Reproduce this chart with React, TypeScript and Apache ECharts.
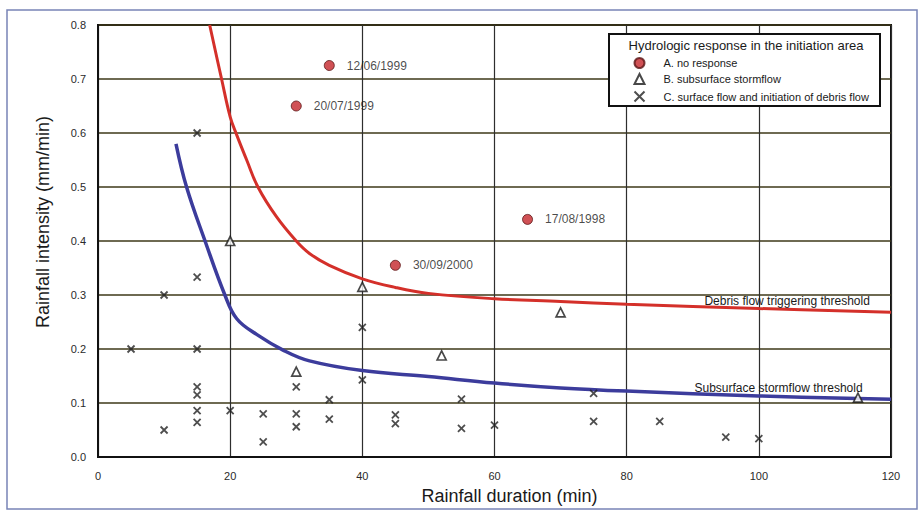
import React, { useEffect, useRef } from "react";
import * as echarts from "echarts";

// ---- data ----
const noResponseX = [35, 30, 65, 45];
const noResponseY = [0.725, 0.65, 0.44, 0.355];
const noResponseDates = ["12/06/1999", "20/07/1999", "17/08/1998", "30/09/2000"];

const subsurfaceX = [20, 40, 30, 52, 70, 115];
const subsurfaceY = [0.4, 0.315, 0.158, 0.188, 0.268, 0.11];

const surfaceX = [5, 10, 10, 15, 15, 15, 15, 15, 15, 15, 20, 25, 25, 30, 30, 30, 35, 35, 40, 40, 45, 45, 55, 55, 60, 75, 75, 85, 95, 100];
const surfaceY = [0.2, 0.3, 0.05, 0.6, 0.333, 0.2, 0.13, 0.115, 0.086, 0.064, 0.086, 0.08, 0.028, 0.13, 0.08, 0.056, 0.106, 0.07, 0.24, 0.143, 0.078, 0.062, 0.107, 0.053, 0.059, 0.118, 0.066, 0.066, 0.037, 0.034];

const debrisX = [16.9, 18.7, 20, 21, 22.5, 24.2, 27, 30, 32, 35, 40, 45, 50, 60, 70, 80, 100, 120];
const debrisY = [0.8, 0.7, 0.63, 0.596, 0.55, 0.5, 0.445, 0.4, 0.377, 0.355, 0.33, 0.314, 0.303, 0.293, 0.288, 0.283, 0.275, 0.268];

const stormX = [11.8, 13.4, 16.2, 19.2, 21, 24, 28, 32, 40, 50, 60, 70, 80, 100, 120];
const stormY = [0.58, 0.5, 0.4, 0.3, 0.256, 0.227, 0.198, 0.178, 0.16, 0.149, 0.137, 0.128, 0.122, 0.113, 0.107];

const xTicks = { min: 0, max: 120, interval: 20 };
const yTicks = { min: 0, max: 0.8, interval: 0.1 };

const legendTitle = "Hydrologic response in the initiation area";
const seriesNames = ["A. no response", "B. subsurface stormflow", "C. surface flow and initiation of debris flow"];
const debrisLabel = "Debris flow triggering threshold";
const debrisLabelPos = [116.8, 0.288];
const stormLabel = "Subsurface stormflow threshold";
const stormLabelPos = [115.7, 0.128];

const FONT = "'Liberation Sans', Arial, sans-serif";
const zip = (xs: number[], ys: number[]) => xs.map((x, i) => [x, ys[i]]);

export default function App() {
  const ref = useRef<HTMLDivElement>(null);
  useEffect(() => {
    if (!ref.current) return;
    const chart = echarts.init(ref.current, null, { renderer: "svg" });
    const thresholdLabel = (text: string, coord: number[]) => ({
      silent: true,
      symbol: "circle",
      symbolSize: 0,
      data: [
        {
          coord,
          label: {
            show: true,
            position: "left",
            distance: 0,
            formatter: text,
            color: "#1a1a1a",
            fontSize: 12,
            fontFamily: FONT,
          },
        },
      ],
    });
    chart.setOption({
      animation: false,
      backgroundColor: "#fff",
      textStyle: { fontFamily: FONT },
      grid: {
        left: 98,
        right: 28,
        top: 25,
        bottom: 55,
        show: true,
        borderColor: "#111",
        borderWidth: 2,
        backgroundColor: "transparent",
        containLabel: false,
      },
      xAxis: {
        type: "value",
        min: xTicks.min,
        max: xTicks.max,
        interval: xTicks.interval,
        name: "Rainfall duration (min)",
        nameLocation: "middle",
        nameGap: 30,
        nameTextStyle: { fontSize: 18, color: "#1a1a1a", fontFamily: FONT, padding: [0, 0, 0, 30] },
        axisLine: { show: true, lineStyle: { color: "#111", width: 2 } },
        axisTick: { show: false },
        axisLabel: { color: "#2a2a2a", fontSize: 11, margin: 13, fontFamily: FONT },
        splitLine: { show: true, lineStyle: { color: "#2e2e2e", width: 1.2 } },
      },
      yAxis: {
        type: "value",
        min: yTicks.min,
        max: yTicks.max,
        interval: yTicks.interval,
        axisLine: { show: true, lineStyle: { color: "#111", width: 2 } },
        axisTick: { show: false },
        axisLabel: {
          color: "#2a2a2a",
          fontSize: 11,
          margin: 12,
          fontFamily: FONT,
          formatter: (v: number) => v.toFixed(1),
        },
        splitLine: { show: true, lineStyle: { color: "#3e3818", width: 1.5 } },
      },
      legend: {
        data: seriesNames,
        orient: "vertical",
        left: 632,
        top: 57,
        itemWidth: 10,
        itemHeight: 10,
        itemGap: 4,
        padding: 0,
        z: 20,
        selectedMode: false,
        textStyle: { fontSize: 11, color: "#1a1a1a", fontFamily: FONT, padding: [0, 0, 0, 14] },
      },
      graphic: [
        {
          type: "rect",
          z: 10,
          shape: { x: 609, y: 34, width: 271, height: 72 },
          style: { fill: "#fff", stroke: "#111", lineWidth: 2 },
        },
        {
          type: "text",
          z: 11,
          x: 746,
          y: 45,
          style: {
            text: legendTitle,
            fill: "#1a1a1a",
            font: `13px ${FONT}`,
            textAlign: "center",
            textVerticalAlign: "middle",
          },
        },
        {
          type: "text",
          z: 11,
          x: 43,
          y: 222,
          rotation: Math.PI / 2,
          style: {
            text: "Rainfall intensity (mm/min)",
            fill: "#1a1a1a",
            font: `18px ${FONT}`,
            textAlign: "center",
            textVerticalAlign: "middle",
          },
        },
        {
          type: "rect",
          z: 0,
          silent: true,
          shape: { x: 7, y: 10, width: 910, height: 499 },
          style: { fill: "none", stroke: "#7884b6", lineWidth: 1.5 },
        },
      ],
      series: [
        {
          name: "Debris flow triggering threshold",
          type: "line",
          data: zip(debrisX, debrisY),
          smooth: 0.4,
          symbol: "none",
          z: 3,
          lineStyle: { color: "#d4302a", width: 3 },
          markPoint: thresholdLabel(debrisLabel, debrisLabelPos),
        },
        {
          name: "Subsurface stormflow threshold",
          type: "line",
          data: zip(stormX, stormY),
          smooth: 0.4,
          symbol: "none",
          z: 3,
          lineStyle: { color: "#3c3c9c", width: 3.5 },
          markPoint: thresholdLabel(stormLabel, stormLabelPos),
        },
        {
          name: seriesNames[0],
          type: "scatter",
          data: noResponseX.map((x, i) => ({
            value: [x, noResponseY[i]],
            label: {
              show: true,
              position: "right",
              distance: 12,
              formatter: noResponseDates[i],
              color: "#1a1a1a",
              fontSize: 12,
              fontFamily: FONT,
            },
          })),
          symbol: "circle",
          symbolSize: 10,
          z: 5,
          itemStyle: { color: "#c4262a", borderColor: "#5a1414", borderWidth: 1 },
        },
        {
          name: seriesNames[1],
          type: "scatter",
          data: zip(subsurfaceX, subsurfaceY),
          symbol: "triangle",
          symbolSize: 9,
          z: 5,
          itemStyle: { color: "#fff", borderColor: "#1a1a1a", borderWidth: 1.7 },
        },
        {
          name: seriesNames[2],
          type: "scatter",
          data: zip(surfaceX, surfaceY),
          symbol: "path://M0,0L10,10M10,0L0,10",
          symbolSize: 7,
          z: 5,
          itemStyle: { color: "none", borderColor: "#222", borderWidth: 1.8 },
        },
      ],
    });
    return () => chart.dispose();
  }, []);
  return (
    <div
      ref={ref}
      style={{ position: "absolute", left: 0, top: 0, width: 919, height: 512 }}
    />
  );
}
